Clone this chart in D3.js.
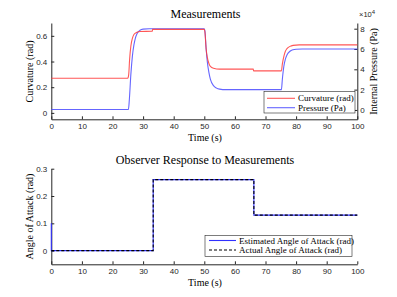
<!DOCTYPE html>
<html>
<head>
<meta charset="utf-8">
<script src="https://cdn.jsdelivr.net/npm/d3@7"></script>
<style>
  body { margin: 0; background: #fff; }
  .tick text { font-family: "Liberation Sans", sans-serif; font-size: 8px; fill: #262626; }
  .serif { font-family: "Liberation Serif", serif; fill: #000; }
</style>
</head>
<body>
<svg id="chart" width="397" height="297"></svg>
<script>
// x ticks shared by both plots
const timeTicks = [0, 10, 20, 30, 40, 50, 60, 70, 80, 90, 100];
const curvTicks = [0, 0.2, 0.4, 0.6];
const pressTicks = [0, 2, 4, 6, 8]; // x10^4 Pa
const aoaTicks = [0, 0.1, 0.2, 0.3];

// Curvature (rad), [time, value]
const curvature = [
  [0, 0.27], [25, 0.27], [25.3, 0.30], [25.6, 0.42], [26, 0.52], [26.5, 0.58],
  [27, 0.61], [28, 0.628], [29, 0.634], [33, 0.636], [33.1, 0.65], [50, 0.65],
  [50.2, 0.63], [50.6, 0.5], [51, 0.43], [51.5, 0.385], [52, 0.362], [53, 0.348],
  [55, 0.341], [66, 0.341], [66.1, 0.327], [75.2, 0.327], [75.5, 0.38], [76, 0.44],
  [76.5, 0.48], [77, 0.5], [78, 0.518], [79, 0.526], [81, 0.53], [100, 0.53]
];

// Pressure (x10^4 Pa), [time, value]
const pressure = [
  [0, 0.05], [25.2, 0.05], [25.5, 1.0], [26, 3.5], [26.5, 5.3], [27, 6.4],
  [27.5, 7.1], [28, 7.5], [29, 7.85], [30, 7.96], [32, 8.0], [50, 8.0],
  [50.2, 7.8], [50.6, 6.0], [51, 4.7], [51.5, 3.7], [52, 3.0], [53, 2.4],
  [54, 2.15], [55, 2.05], [57, 2.0], [75.2, 2.0], [75.5, 3.0], [76, 4.3],
  [76.5, 5.0], [77, 5.4], [78, 5.78], [79, 5.93], [80, 5.98], [82, 6.0], [100, 6.0]
];

// Angle of attack (rad), [time, value]
const estimatedAoa = [[0, 0.1], [0, 0], [33.3, 0], [33.3, 0.26], [66.2, 0.26], [66.2, 0.13], [100, 0.13]];
const actualAoa = [[0, 0], [33.3, 0], [33.3, 0.26], [66.2, 0.26], [66.2, 0.13], [100, 0.13]];

const svg = d3.select("#chart");
const axisColor = "#262626";
const red = "#ff3a3a";
const blue = "#4a4aff";

const x = d3.scaleLinear().domain([0, 100]).range([51.3, 357.3]);

// ---- top plot ----
const yCurv = d3.scaleLinear().domain([-0.05, 0.7]).range([119.3, 23]);
const yPress = d3.scaleLinear().domain([-0.92, 8.56]).range([119.3, 23]);

const styleAxis = g => {
  g.select(".domain").attr("stroke", axisColor);
  g.selectAll(".tick line").attr("stroke", axisColor);
};

// ticks point inward (MATLAB default)
svg.append("g").attr("transform", "translate(0,119.3)")
  .call(d3.axisBottom(x).tickValues(timeTicks).tickSize(-3).tickSizeOuter(0).tickPadding(4))
  .call(styleAxis);
svg.append("g").attr("transform", "translate(51.3,0)")
  .call(d3.axisLeft(yCurv).tickValues(curvTicks).tickFormat(d3.format("")).tickSize(-3).tickSizeOuter(0).tickPadding(4))
  .call(styleAxis);
svg.append("g").attr("transform", "translate(357.3,0)")
  .call(d3.axisRight(yPress).tickValues(pressTicks).tickSize(-3).tickSizeOuter(0).tickPadding(3))
  .call(styleAxis);

const lineCurv = d3.line().x(d => x(d[0])).y(d => yCurv(d[1])).curve(d3.curveMonotoneX);
const linePress = d3.line().x(d => x(d[0])).y(d => yPress(d[1])).curve(d3.curveMonotoneX);

svg.append("path").datum(pressure).attr("d", linePress)
  .attr("fill", "none").attr("stroke", blue).attr("stroke-opacity", 0.85).attr("stroke-width", 1.1);
svg.append("path").datum(curvature).attr("d", lineCurv)
  .attr("fill", "none").attr("stroke", red).attr("stroke-opacity", 0.85).attr("stroke-width", 1.1);

svg.append("text").attr("class", "serif").attr("x", 205.5).attr("y", 18.3)
  .attr("text-anchor", "middle").attr("font-size", 12).text("Measurements");
svg.append("text").attr("class", "serif").attr("x", 205).attr("y", 141)
  .attr("text-anchor", "middle").attr("font-size", 10).text("Time (s)");
svg.append("text").attr("class", "serif").attr("transform", "translate(33,71.5) rotate(-90)")
  .attr("text-anchor", "middle").attr("font-size", 10).text("Curvature (rad)");
svg.append("text").attr("class", "serif").attr("transform", "translate(377,71.5) rotate(-90)")
  .attr("text-anchor", "middle").attr("font-size", 10).text("Internal Pressure (Pa)");
const exp = svg.append("text").attr("x", 359).attr("y", 17)
  .attr("font-family", "Liberation Sans, sans-serif").attr("font-size", 7.5).attr("fill", axisColor);
exp.append("tspan").text("\u00d710");
exp.append("tspan").attr("dy", -3).attr("font-size", 6).text("4");

// top legend
const leg1 = svg.append("g");
leg1.append("rect").attr("x", 264).attr("y", 91.5).attr("width", 91).attr("height", 21.5)
  .attr("fill", "#fff").attr("stroke", axisColor).attr("stroke-width", 0.6);
const legItems1 = [["Curvature (rad)", red], ["Pressure (Pa)", blue]];
legItems1.forEach((d, i) => {
  const yy = 98.3 + i * 9.4;
  leg1.append("line").attr("x1", 267).attr("x2", 295).attr("y1", yy).attr("y2", yy)
    .attr("stroke", d[1]).attr("stroke-opacity", 0.85).attr("stroke-width", 1.1);
  leg1.append("text").attr("class", "serif").attr("x", 298).attr("y", yy + 3)
    .attr("font-size", 9).text(d[0]);
});

// ---- bottom plot ----
const yAoa = d3.scaleLinear().domain([-0.05, 0.3]).range([264.3, 168.7]);

svg.append("g").attr("transform", "translate(0,264.3)")
  .call(d3.axisBottom(x).tickValues(timeTicks).tickSize(-3).tickSizeOuter(0).tickPadding(4))
  .call(styleAxis);
svg.append("g").attr("transform", "translate(51.3,0)")
  .call(d3.axisLeft(yAoa).tickValues(aoaTicks).tickFormat(d3.format("")).tickSize(-3).tickSizeOuter(0).tickPadding(4))
  .call(styleAxis);

const lineAoa = d3.line().x(d => x(d[0])).y(d => yAoa(d[1]));
svg.append("path").datum(estimatedAoa).attr("d", lineAoa)
  .attr("fill", "none").attr("stroke", "#3030ff").attr("stroke-width", 1.1);
svg.append("path").datum(actualAoa).attr("d", lineAoa)
  .attr("fill", "none").attr("stroke", "#000").attr("stroke-width", 1.1)
  .attr("stroke-dasharray", "3,2");

svg.append("text").attr("class", "serif").attr("x", 205).attr("y", 163.5)
  .attr("text-anchor", "middle").attr("font-size", 12).text("Observer Response to Measurements");
svg.append("text").attr("class", "serif").attr("x", 205).attr("y", 286)
  .attr("text-anchor", "middle").attr("font-size", 10).text("Time (s)");
svg.append("text").attr("class", "serif").attr("transform", "translate(33,216.5) rotate(-90)")
  .attr("text-anchor", "middle").attr("font-size", 10).text("Angle of Attack (rad)");

// bottom legend
const leg2 = svg.append("g");
leg2.append("rect").attr("x", 205).attr("y", 235.5).attr("width", 147).attr("height", 21)
  .attr("fill", "#fff").attr("stroke", axisColor).attr("stroke-width", 0.6);
const legItems2 = [["Estimated Angle of Attack (rad)", "#3030ff", null], ["Actual Angle of Attack (rad)", "#000", "3,2"]];
legItems2.forEach((d, i) => {
  const yy = 240.5 + i * 9.5;
  leg2.append("line").attr("x1", 209).attr("x2", 236).attr("y1", yy).attr("y2", yy)
    .attr("stroke", d[1]).attr("stroke-width", 1.1).attr("stroke-dasharray", d[2]);
  leg2.append("text").attr("class", "serif").attr("x", 239).attr("y", yy + 3)
    .attr("font-size", 9).text(d[0]);
});
</script>
</body>
</html>
